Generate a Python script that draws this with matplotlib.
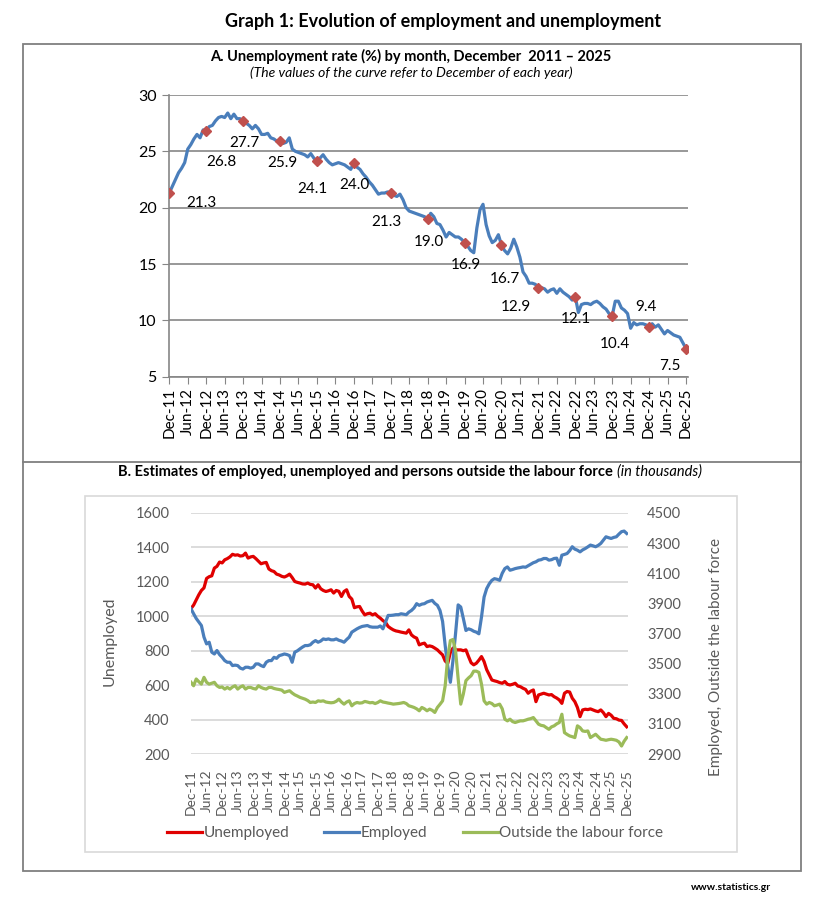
import matplotlib
matplotlib.use("Agg")
import matplotlib.pyplot as plt
from matplotlib.patches import Rectangle
from matplotlib.lines import Line2D

plt.rcParams['font.family'] = ['Lato', 'DejaVu Sans']

# ---------------- data ----------------
tick_labels = ['Dec-11', 'Jun-12', 'Dec-12', 'Jun-13', 'Dec-13', 'Jun-14', 'Dec-14', 'Jun-15',
               'Dec-15', 'Jun-16', 'Dec-16', 'Jun-17', 'Dec-17', 'Jun-18', 'Dec-18', 'Jun-19',
               'Dec-19', 'Jun-20', 'Dec-20', 'Jun-21', 'Dec-21', 'Jun-22', 'Dec-22', 'Jun-23',
               'Dec-23', 'Jun-24', 'Dec-24', 'Jun-25', 'Dec-25']

# Unemployment rate (%), monthly Dec-2011 .. Dec-2025
rate = [21.3, 21.9, 22.5, 23.1, 23.5, 24.0, 25.2, 25.6, 26.1, 26.5, 26.2, 26.9, 26.8,
        27.2, 27.3, 27.7, 28.0, 28.1, 28.0, 28.4, 27.9, 28.3, 27.9, 27.9, 27.7,
        27.5, 27.3, 27.0, 27.3, 27.0, 26.5, 26.5, 26.6, 26.2, 26.1, 25.9, 25.9,
        25.7, 25.8, 26.2, 25.2, 25.0, 24.9, 24.8, 24.7, 24.5, 24.8, 24.4, 24.1,
        24.4, 24.7, 24.3, 24.0, 23.8, 23.9, 24.0, 23.9, 23.8, 23.6, 23.4, 24.0,
        23.6, 23.4, 23.0, 22.7, 22.3, 22.0, 21.6, 21.2, 21.3, 21.3, 21.4, 21.3,
        21.1, 21.0, 21.2, 20.7, 20.0, 19.7, 19.6, 19.5, 19.4, 19.3, 19.2, 19.0,
        19.5, 19.2, 18.6, 18.5, 18.0, 17.4, 17.8, 17.6, 17.4, 17.4, 17.2, 16.9,
        16.6, 16.2, 16.0, 18.2, 19.8, 20.3, 18.5, 17.5, 16.9, 17.1, 17.6, 16.7,
        16.2, 15.9, 16.4, 17.2, 16.5, 15.6, 14.3, 13.9, 13.3, 13.3, 13.2, 12.9,
        12.9, 12.8, 12.5, 12.7, 12.8, 12.4, 12.8, 12.5, 12.3, 12.1, 11.8, 12.1,
        10.7, 11.4, 11.5, 11.5, 11.4, 11.6, 11.7, 11.5, 11.2, 11.0, 10.6, 10.4,
        11.7, 11.7, 11.1, 10.9, 10.6, 9.3, 9.8, 9.6, 9.7, 9.7, 9.6, 9.4,
        9.7, 9.4, 9.6, 9.2, 8.8, 9.1, 8.9, 8.7, 8.6, 8.5, 8.0, 7.5]

# December values shown with labels
dec_rate_labels = ['21.3', '26.8', '27.7', '25.9', '24.1', '24.0', '21.3', '19.0',
                   '16.9', '16.7', '12.9', '12.1', '10.4', '9.4', '7.5']

# Estimates in thousands, monthly Dec-2011 .. Dec-2025
unemployed = [1045, 1065, 1095, 1125, 1150, 1165, 1220, 1230, 1235, 1280, 1290, 1315, 1310,
              1328, 1335, 1345, 1360, 1355, 1357, 1350, 1352, 1367, 1338, 1345, 1348,
              1335, 1320, 1305, 1310, 1313, 1275, 1265, 1260, 1245, 1240, 1232, 1228,
              1235, 1245, 1225, 1202, 1197, 1193, 1188, 1187, 1193, 1185, 1183, 1164,
              1183, 1160, 1150, 1144, 1148, 1154, 1135, 1150, 1145, 1115, 1144, 1154,
              1115, 1100, 1050, 1055, 1057, 1030, 1008, 1015, 1018, 1008, 1015, 1000,
              989, 975, 965, 941, 930, 921, 915, 912, 908, 905, 902, 921,
              892, 880, 873, 834, 840, 844, 824, 828, 824, 815, 805, 790,
              776, 740, 727, 790, 815, 805, 805, 805, 800, 805, 766, 730,
              718, 727, 745, 766, 737, 690, 660, 630, 625, 621, 615, 611,
              621, 605, 601, 605, 611, 595, 591, 582, 575, 553, 565, 572,
              504, 543, 548, 553, 548, 543, 545, 533, 525, 514, 494, 553,
              563, 560, 524, 504, 470, 417, 456, 460, 458, 462, 456, 450,
              446, 456, 440, 417, 436, 425, 407, 405, 397, 395, 375, 358]

employed = [3864, 3831, 3800, 3776, 3753, 3676, 3631, 3642, 3576, 3564, 3587, 3560, 3542,
            3520, 3509, 3509, 3487, 3490, 3487, 3470, 3464, 3476, 3476, 3470, 3476,
            3498, 3498, 3487, 3480, 3509, 3520, 3520, 3542, 3535, 3553, 3558, 3564,
            3560, 3553, 3509, 3576, 3585, 3598, 3610, 3620, 3620, 3625, 3642, 3653,
            3642, 3650, 3664, 3660, 3664, 3658, 3658, 3664, 3655, 3650, 3642, 3660,
            3676, 3709, 3720, 3731, 3740, 3747, 3750, 3753, 3745, 3742, 3742, 3742,
            3750, 3731, 3776, 3820, 3820, 3822, 3825, 3825, 3831, 3828, 3825, 3842,
            3853, 3870, 3898, 3887, 3895, 3898, 3909, 3915, 3920, 3900, 3887, 3853,
            3780, 3620, 3480, 3376, 3520, 3700, 3890, 3876, 3800, 3720, 3731, 3725,
            3715, 3709, 3698, 3809, 3942, 3998, 4030, 4053, 4064, 4060, 4053, 4100,
            4131, 4142, 4120, 4125, 4131, 4135, 4138, 4142, 4140, 4150, 4160, 4170,
            4176, 4187, 4190, 4198, 4198, 4187, 4190, 4198, 4200, 4153, 4220, 4225,
            4231, 4250, 4276, 4260, 4253, 4242, 4255, 4264, 4275, 4287, 4282, 4276,
            4285, 4298, 4320, 4342, 4336, 4331, 4338, 4342, 4360, 4376, 4380, 4364]

outside = [3376, 3353, 3398, 3380, 3364, 3409, 3376, 3364, 3370, 3376, 3353, 3342, 3345,
           3331, 3342, 3331, 3345, 3353, 3331, 3345, 3353, 3331, 3342, 3342, 3335,
           3331, 3353, 3342, 3335, 3331, 3342, 3342, 3335, 3331, 3328, 3324, 3309,
           3315, 3320, 3305, 3293, 3285, 3276, 3270, 3264, 3255, 3242, 3245, 3242,
           3253, 3250, 3253, 3245, 3242, 3240, 3242, 3250, 3264, 3245, 3231, 3245,
           3253, 3220, 3235, 3242, 3238, 3240, 3249, 3245, 3240, 3242, 3235, 3242,
           3253, 3245, 3242, 3238, 3235, 3231, 3233, 3235, 3238, 3242, 3235, 3220,
           3215, 3209, 3200, 3187, 3209, 3200, 3187, 3198, 3190, 3176, 3209, 3230,
           3253, 3353, 3542, 3653, 3660, 3587, 3400, 3231, 3298, 3387, 3405, 3420,
           3450, 3450, 3442, 3364, 3253, 3231, 3242, 3235, 3220, 3225, 3231, 3200,
           3131, 3120, 3131, 3115, 3109, 3115, 3120, 3120, 3125, 3131, 3135, 3142,
           3120, 3098, 3090, 3087, 3075, 3064, 3080, 3087, 3100, 3109, 3164, 3042,
           3030, 3020, 3015, 3009, 3087, 3075, 3053, 3050, 3053, 3009, 3020, 3031,
           3015, 2998, 2995, 2991, 2995, 2998, 2995, 2991, 2980, 2953, 2985, 3009]

# ---------------- figure ----------------
W, H = 827, 900
fig = plt.figure(figsize=(W / 100, H / 100), dpi=100)


def fx(px):
    return px / W


def fy(py):
    return 1 - py / H


def ax_rect(x0, y0, x1, y1):
    return [x0 / W, 1 - y1 / H, (x1 - x0) / W, (y1 - y0) / H]


# frames
fig.add_artist(Rectangle((fx(22.7), fy(870.7)), (801 - 22.7) / W, (870.7 - 44) / H,
                         transform=fig.transFigure, fill=False, ec='#7f7f7f', lw=1.3))
fig.add_artist(Line2D([fx(22.7), fx(801)], [fy(462), fy(462)], transform=fig.transFigure,
                      color='#7f7f7f', lw=1.3))
fig.add_artist(Rectangle((fx(85), fy(852)), (737 - 85) / W, (852 - 496) / H,
                         transform=fig.transFigure, fill=False, ec='#d9d9d9', lw=1.2))

# titles
fig.text(fx(443), fy(22), 'Graph 1: Evolution of employment and unemployment',
         ha='center', va='center', fontsize=13, fontweight='bold')
fig.text(fx(411), fy(56), 'A. Unemployment rate (%) by month, December  2011 \u2013 2025',
         ha='center', va='center', fontsize=10.5, fontweight='bold')
fig.text(fx(411), fy(73), '(The values of the curve refer to December of each year)',
         ha='center', va='center', fontsize=10, style='italic')
fig.text(fx(731), fy(888), 'www.statistics.gr', ha='center', va='center',
         fontsize=7.5, fontweight='bold')

# ---------------- panel A ----------------
months = list(range(len(rate)))
ax1 = fig.add_axes(ax_rect(169.3, 95, 688, 376.7))
ax1.plot(months, rate, color='#4a7ebb', lw=2.3, zorder=3, solid_joinstyle='round')
dec_idx = months[::12]
ax1.plot(dec_idx, [rate[i] for i in dec_idx], 'D', color='#c0504d', ms=5, zorder=4)

# label offsets in pixels (dx right, dy down)
label_offsets = [(32, 10), (15, 31), (1, 22), (2, 22), (-5, 28), (1, 22), (-4, 29),
                 (1, 23), (1, 22), (3, 34), (-22, 19), (1, 22), (3, 28), (-3, -20), (-16, 17)]
for i, lab, (dx, dy) in zip(dec_idx, dec_rate_labels, label_offsets):
    ax1.annotate(lab, (i, rate[i]), xytext=(dx, -dy), textcoords='offset pixels',
                 ha='center', va='center', fontsize=11, zorder=5)

ax1.set_xlim(0, 168.65)
ax1.set_ylim(5, 30)
ax1.set_yticks([5, 10, 15, 20, 25, 30])
ax1.set_xticks(months[::6])
ax1.set_xticklabels(tick_labels, rotation=90, fontsize=11)
ax1.tick_params(axis='y', labelsize=11.5, length=5, color='#868686', pad=4)
ax1.tick_params(axis='x', length=5, color='#868686', pad=3)
ax1.yaxis.grid(True, color='#868686', lw=1.2)
ax1.set_axisbelow(True)
for s in ['top', 'right']:
    ax1.spines[s].set_visible(False)
for s in ['left', 'bottom']:
    ax1.spines[s].set_color('#868686')
    ax1.spines[s].set_linewidth(1.2)

# ---------------- panel B ----------------
ax2 = fig.add_axes(ax_rect(190.5, 513, 627.5, 754))
ax3 = ax2.twinx()
l_u, = ax2.plot(months, unemployed, color='#e00000', lw=2.3, zorder=3)
l_e, = ax3.plot(months, employed, color='#4a7ebb', lw=2.3, zorder=3)
l_o, = ax3.plot(months, outside, color='#9bbb59', lw=2.3, zorder=3)

ax2.set_xlim(-0.2, 168.3)
ax2.set_ylim(200, 1600)
ax2.set_yticks(range(200, 1601, 200))
ax3.set_ylim(2900, 4500)
ax3.set_yticks(range(2900, 4501, 200))
ax2.set_xticks(months[::6])
ax2.set_xticklabels(tick_labels, rotation=90, fontsize=10, color='#595959')
ax2.yaxis.grid(True, color='#d9d9d9', lw=1.3)
ax2.set_axisbelow(True)
ax2.tick_params(axis='both', length=0, labelcolor='#595959')
ax2.tick_params(axis='y', labelsize=10.5, pad=15)
ax2.tick_params(axis='x', pad=11)
ax3.tick_params(axis='y', length=0, labelcolor='#595959', labelsize=10.5, pad=14)
for a in (ax2, ax3):
    for s in a.spines.values():
        s.set_visible(False)

fig.text(fx(110), fy(641), 'Unemployed', rotation=90, ha='center', va='center',
         fontsize=11.5, color='#595959')
fig.text(fx(716), fy(657), 'Employed, Outside the labour force', rotation=90,
         ha='center', va='center', fontsize=11, color='#595959')

fig.legend([l_u, l_e, l_o], ['Unemployed', 'Employed', 'Outside the labour force'],
           loc='center', bbox_to_anchor=(fx(415), fy(833)), ncol=3, frameon=False,
           fontsize=11, handlelength=2.3, handletextpad=0.1, columnspacing=2.3,
           labelcolor='#595959')

# panel B title: bold part + italic part
renderer = fig.canvas.get_renderer()
tb1 = fig.text(0, fy(472), 'B. Estimates of employed, unemployed and persons outside the labour force',
               ha='left', va='center', fontsize=10.5, fontweight='bold')
tb2 = fig.text(0, fy(472), '(in thousands)', ha='left', va='center', fontsize=10.5, style='italic')
w1 = tb1.get_window_extent(renderer).width
w2 = tb2.get_window_extent(renderer).width
gap = 4
start = 410 - (w1 + gap + w2) / 2
tb1.set_x(fx(start))
tb2.set_x(fx(start + w1 + gap))

fig.savefig('out.png', dpi=100)
